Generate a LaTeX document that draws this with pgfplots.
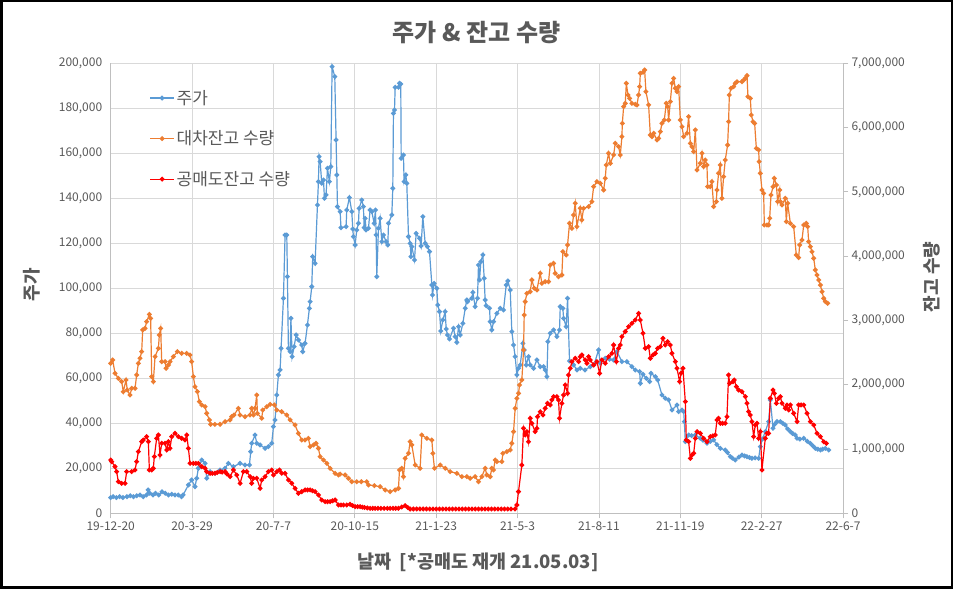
\documentclass[border=0pt]{standalone}
\usepackage{fontspec}
\setmainfont{Noto Sans CJK KR}
\usepackage{pgfplots}
\pgfplotsset{compat=1.18}
\definecolor{cBlue}{HTML}{5B9BD5}
\definecolor{cOrange}{HTML}{ED7D31}
\definecolor{cRed}{HTML}{FF0000}
\definecolor{cText}{HTML}{595959}
\definecolor{cGrid}{HTML}{D9D9D9}
\definecolor{cAxis}{HTML}{BFBFBF}
\pgfplotsset{
  common/.style={
    at={(110.7pt,75.7pt)}, anchor=south west,
    scale only axis, width=732.3pt, height=450pt,
    xmin=0, xmax=900, clip=false,
    axis line style={cAxis, line width=0.8pt},
    tick align=outside,
    tick label style={font=\fontsize{12}{14}\selectfont, text=cText},
    scaled y ticks=false,
    yticklabel style={/pgf/number format/.cd, fixed, precision=0, 1000 sep={,}, assume math mode=true},
  },
  ser/.style={line width=1.2pt, mark=*, mark size=1.8pt, mark options={solid}},
}
\begin{document}
\begin{tikzpicture}[x=1pt,y=1pt]
\useasboundingbox (0,0) rectangle (953,589);
\fill[white] (0,0) rectangle (953,589);
\draw[line width=2.5pt] (1.25,1.25) rectangle (951.75,587.75);
\begin{axis}[common,
  ymin=0, ymax=200000,
  axis y line*=left, axis x line*=bottom,
  xtick={0,100,200,300,400,500,600,700,800,900},
  xticklabels={19-12-20,20-3-29,20-7-7,20-10-15,21-1-23,21-5-3,21-8-11,21-11-19,22-2-27,22-6-7},
  ytick={0,20000,40000,60000,80000,100000,120000,140000,160000,180000,200000},
  grid=major, major grid style={cGrid, line width=0.8pt},
  x tick style={cAxis, line width=0.8pt}, major tick length=5pt,
  y tick style={draw=none},
]
\addplot[ser, cBlue] table {
x y
0 6960
3 7400
7 7000
11 7400
15 7000
20 7400
24 7800
28 7400
32 7800
36 8150
40 7400
44 8150
46 10370
48 8900
52 8150
55 8900
59 8150
63 9600
67 8900
71 8150
75 8500
79 8150
83 8150
87 7400
89 8150
95.5 12590
99.5 14810
103.6 11850
105.7 15550
107.7 20000
111.9 23700
116 22220
118 15550
122.1 18520
128.2 17770
134.4 19260
140.5 20000
144.6 22220
150.8 20740
159 22220
165.1 21480
170.5 21480
172.1 27400
173.3 31110
177.4 34790
179.5 31110
183.6 30370
189.7 28880
193.8 29630
197.9 31110
200 38510
202 41480
204.1 52590
206.1 61480
208.2 63700
209.4 73330
212.3 95550
214.3 123700
216.4 123700
217.2 105180
218.4 73330
220.5 71850
221.5 86660
223 69630
225.4 74070
227.9 79250
230.7 77030
234.8 74810
236 71850
238.9 75550
241.8 83700
244.2 91110
245.1 94070
247.1 100740
248.3 114070
251.2 111110
254.1 137030
255.3 147400
256.1 158500
257.4 156290
259.4 146660
261.5 148140
262.7 140000
264.7 141480
266.4 153330
268.8 147400
270.5 154070
272.1 198500
275.4 194070
277 165920
277.9 150370
278.7 136290
282 134070
283 126960
289.3 127400
290.1 134810
293.4 140290
296.3 134070
297.5 126370
298.3 122960
300.4 119250
302.4 125920
304.5 128880
305.3 135550
308.6 139250
310.6 136290
311.5 126960
312.7 131110
313.9 125920
316.8 126660
318.8 134810
320.9 134070
323.8 128880
325.4 134810
326.2 123700
327 105180
329.1 126660
331.1 131110
333.2 120740
335.2 123700
338.5 120740
340.6 119250
341.4 128880
345.5 132590
346.7 144440
347.5 177770
348.8 179250
349.6 189330
353.7 189330
354.9 191100
356.5 190800
357 157770
359.8 159250
360.6 147400
362.7 150370
363.9 146660
366 122960
368 120000
369 114070
370.1 118520
373.4 112590
375.4 124440
379.5 122220
381.5 118810
383.6 131850
386.5 120000
389.3 118520
391.8 116300
394.7 101480
395.5 97030
397.5 102220
400.8 100000
402 92590
404.1 89630
405.7 81030
408.2 85920
411.1 89630
412.3 81920
413.9 79250
416.4 77480
421.3 82220
423.4 78510
425.4 76000
427.5 82960
429.5 79250
432.8 84440
435.7 91110
437.7 94810
438.5 94070
443.8 95550
445.1 98220
447.9 91850
450.8 95550
452 110370
453.3 103700
454.9 111850
457.4 114810
459 104440
460.2 94810
461.5 92290
465.6 91110
466.4 85180
468.4 81480
470.5 85180
474.6 88890
478.7 91110
482.8 90370
486.1 101480
488.1 103260
491 99260
493 80740
495.1 74810
497.1 69630
499.2 61480
501.2 64440
503.3 65920
506.6 75550
508.2 72590
510.7 65920
513.5 69630
515.6 65920
519.7 64440
523.8 68140
527.9 65180
532 65180
534 63700
536.1 60740
537.3 76290
540.2 80000
544.3 81480
548.4 78510
551.6 81480
552.5 91850
555.7 91110
556.6 86660
559.8 82960
561.5 95550
563.9 67700
568.9 65920
573 63700
577.1 64440
583 63700
589.4 65180
594 66000
599.6 72590
601.7 66660
607.8 68880
613 68500
618.1 68140
622.2 71850
628.3 67400
634.5 67400
640.6 65180
644.7 63700
650.1 62960
650.9 57770
654.2 61770
658.3 60000
662.4 58520
664 62220
669.3 60740
672.2 59260
677.5 52590
681.6 51110
685.7 50370
689.8 45920
696 48140
698 45180
702.1 45920
704.2 45180
705 40740
706.2 31850
710.3 34790
714 34500
718.5 34790
724.6 33330
728 32500
732.8 31110
737 32000
741 32590
745 30500
749.2 28880
755.3 28140
758 27000
761.5 25180
764 24500
767.6 23700
772 25000
775.8 25920
779 25500
782 25180
785 24800
788.1 24440
792 24600
796.3 24440
798.4 29630
801 33000
804.5 36290
808.6 40740
810.7 50370
814 37770
816 39500
818.9 40740
823 40740
826 40000
829.1 39250
832 37500
835.3 36290
838 35500
841.4 34790
843.5 33330
847 33000
851.7 33330
856 32000
859.9 31110
863 30000
866 28880
869 28500
872.2 28140
875 28500
878.3 28880
882.4 28140
};
\end{axis}
\begin{axis}[common,
  ymin=0, ymax=7000000,
  axis y line*=right, axis x line=none,
  ytick={0,1000000,2000000,3000000,4000000,5000000,6000000,7000000},
  y tick style={cAxis, line width=0.8pt}, major tick length=5pt,
  legend style={at={(0.0527,0.945)}, anchor=north west, draw=none, fill=none,
    font=\fontsize{17}{20}\selectfont, text=cText, row sep=21pt, inner sep=0pt},
  legend cell align=left,
  legend image code/.code={\draw[mark repeat=2,mark phase=2] plot coordinates {(0pt,0pt)(12pt,0pt)(24pt,0pt)};},
]
\addlegendimage{ser, cBlue}
\addlegendentry{주가}
\addplot[ser, cOrange] table {
x y
0 2333000
2.4 2385000
5.3 2177000
9.4 2100000
13.5 2048000
15.5 1892000
18.8 2074000
20.4 1918000
23.7 1840000
25.8 1944000
29.9 1944000
31.9 2152000
34 2333000
36 2411000
38.1 2515000
39.3 2852000
42.2 2877000
44.2 2981000
47.5 3095000
49.1 3033000
50.4 2126000
52.4 2048000
54.5 2437000
58.6 2566000
59.8 2774000
61.4 2877000
62.7 2359000
66.8 2359000
68 2255000
70.9 2307000
72.9 2359000
77 2437000
81.9 2515000
87.3 2488000
93.4 2488000
97.5 2463000
99.5 2359000
101.6 2126000
103.6 1970000
106.5 1892000
109 1737000
111.9 1685000
116 1659000
118 1555000
121.3 1452000
122.9 1384000
128 1384000
134.4 1384000
140.5 1426000
146.7 1452000
148.7 1503000
151.6 1529000
156.9 1633000
159 1529000
165.1 1503000
171.3 1529000
173.3 1633000
175.4 1529000
177.4 1633000
179.5 1840000
180.3 1555000
185.6 1478000
186.9 1607000
191.8 1659000
195.9 1695000
201.2 1685000
204.1 1607000
210.2 1581000
216.4 1529000
220.5 1452000
226.6 1374000
230.7 1244000
234.8 1140000
238.9 1140000
243 1166000
245.1 1037000
249.2 1063000
252.4 1089000
255.3 1011000
257.4 881000
261.5 829000
265.6 777000
269.7 700000
275.8 622000
279.9 596000
282 610000
288.1 596000
292.2 544000
296.3 492000
302.4 492000
308 492000
314.7 492000
316.8 440000
324 430000
331.1 414000
337.3 363000
343.4 337000
349.6 363000
353.7 388000
354.9 674000
357.8 700000
359.8 570000
361.9 855000
366 933000
368 1114000
370.1 1063000
374.2 751000
380.3 700000
382.4 1218000
388.5 1166000
394.7 1140000
395.9 933000
397.9 700000
404.9 751000
411.1 700000
417.2 648000
425.4 622000
431.6 570000
437.7 570000
441.8 544000
447.9 570000
452 492000
456.1 570000
460.2 700000
462.3 596000
466.4 570000
468.4 700000
470.5 674000
472.5 829000
474.6 803000
480.7 803000
482 933000
486.9 959000
491 985000
493 1089000
495.1 1270000
497.1 1633000
499.2 1789000
501.2 1866000
502.5 1996000
505.3 2074000
507.4 2540000
508.2 3085000
509.4 3292000
511.5 3422000
515.6 3448000
517.6 3629000
520.5 3500000
523.8 3474000
527.9 3733000
529.9 3577000
534 3603000
538.1 3603000
540.2 3863000
544.3 3889000
546.3 3733000
550.4 3681000
554.5 3707000
555.7 4070000
559.8 4018000
561.5 4174000
563.9 4511000
566.8 4433000
568.9 4640000
570.9 4822000
573 4459000
577.1 4744000
579 4563000
581.2 4744000
587.3 4770000
591.4 4848000
593.5 5081000
597.6 5159000
601.7 5133000
605.8 5029000
607.8 5211000
609.1 5418000
611.9 5600000
614 5444000
618.1 5574000
620.1 5755000
624.2 5703000
626.3 5574000
628.3 5859000
628.8 6066000
630.4 6326000
632.4 6377000
633.7 6689000
635.7 6507000
637.8 6455000
640.6 6377000
644.7 6362000
646.8 6352000
648.8 6507000
650.1 6637000
650.9 6844000
654.2 6860000
656.2 6896000
657.8 6559000
661.1 6352000
663.2 5885000
665.2 5859000
667.3 5911000
671.4 5807000
673.4 5833000
675.5 5937000
677.5 6066000
680.4 6118000
682.8 6377000
684.5 6326000
685.7 6118000
687.8 6403000
689.8 6689000
691.9 6766000
693.9 6611000
696 6559000
698 6637000
700.1 6118000
702.1 6014000
704.2 5859000
708.3 5911000
710.3 6170000
712.4 5755000
714.4 5703000
716.5 5626000
718.5 5963000
720.6 5340000
724.6 5444000
726.7 5600000
728.7 5392000
730.8 5496000
732.8 5418000
733.6 5081000
736.9 5081000
738.9 5159000
741 4770000
744.3 4848000
745.1 5029000
747.1 5289000
749.2 5418000
751.2 4900000
753.3 5237000
755.3 5496000
758.2 5729000
759.4 6092000
760.3 6507000
762.3 6611000
765.6 6637000
767.6 6689000
769.7 6714000
775.8 6714000
777.9 6740000
779.9 6766000
782 6808000
783.2 6481000
786.1 6455000
787.3 6196000
789.4 6092000
791.4 6066000
793.5 5677000
796.3 5652000
797 5470000
798.4 5289000
800.4 5029000
802.5 4977000
803.3 4485000
806.6 4485000
808.6 4485000
809.9 4589000
811.5 4952000
814 5081000
815.6 5211000
818.1 5107000
819.7 4848000
822.2 5029000
823 4848000
825 4796000
829.1 4900000
830.3 4537000
832 4822000
835.3 4511000
839.4 4459000
842.6 4018000
845.5 3977000
846.7 4174000
849.6 4251000
851.7 4485000
854.9 4511000
856.6 4459000
857.8 4226000
859.9 4148000
861.9 4070000
864 3966000
866 3785000
868.1 3707000
870.1 3629000
872.2 3551000
874.2 3448000
876.3 3344000
878.3 3292000
881.2 3266000
};
\addlegendentry{대차잔고 수량}
\addplot[ser, cRed] table {
x y
0 829000
1.2 803000
5.3 726000
7.3 648000
9.4 492000
13.5 466000
17.6 466000
19.6 648000
25.8 648000
29.9 674000
31.9 803000
34 959000
38.1 1114000
40.1 1140000
44.2 1192000
46.3 1114000
47.5 674000
50.4 674000
52.4 700000
53.6 881000
56.5 1166000
58.6 1218000
60.6 907000
62.7 1089000
66.8 1089000
68.8 985000
70.9 1114000
72.9 1011000
75 1192000
79.1 1244000
83.2 1192000
87.3 1166000
91.4 1140000
93.4 1218000
95.5 1011000
97.5 777000
101.6 777000
104.6 777000
107.7 777000
111.9 726000
116 700000
118 648000
122.1 622000
125 622000
128.2 622000
131 635000
134.4 648000
137 640000
140.5 648000
143 610000
146.7 570000
150.8 674000
154.9 596000
159 466000
163.1 648000
167.2 648000
171.3 570000
173.3 466000
175.4 544000
179.5 544000
183.6 388000
185.6 518000
189.7 570000
193.8 648000
197.9 674000
200 596000
204.1 648000
207.4 674000
210.2 622000
214.3 622000
218.4 518000
222.5 466000
226.6 388000
230.7 311000
234.8 337000
238.9 363000
242 363000
245.1 363000
248 350000
251.2 337000
255.3 285000
259.4 207000
263.5 181000
266.5 181000
269.7 181000
272.7 195000
275.8 207000
279.9 129000
283 129000
286.1 129000
290.1 129000
294.2 140000
297.3 120000
300.4 103000
303.5 103000
306.5 103000
309.3 95000
312 90000
315.4 83000
318.8 77000
322 77000
325 77000
328.5 77000
332 77000
336 77000
340 77000
343.5 77000
347 77000
350.3 77000
353.7 77000
357.8 98000
361.9 119000
365 90000
368 67000
372 67000
376 67000
380 67000
384 67000
388 67000
392 67000
396 67000
400 67000
404 67000
408 67000
412 67000
416 67000
420 67000
424 67000
428 67000
432 67000
436 67000
440 67000
444 67000
448 67000
452 67000
456 67000
460 67000
464 67000
468 67000
472 67000
476 67000
480 67000
484 67000
488 67000
492 67000
497 67000
499.2 129000
501.2 337000
505.3 751000
507.4 1322000
509.4 1218000
511.5 1270000
513.5 1114000
515.6 1478000
517.6 1400000
521.7 1270000
523.8 1322000
524.6 1503000
527.9 1581000
531.2 1529000
534 1633000
536.9 1711000
540.2 1685000
542.2 1763000
544.3 1815000
548.4 1815000
550.4 1763000
551.6 1478000
554.5 1711000
556.6 1840000
558.6 1996000
561.5 1866000
562.7 2152000
564.8 2255000
566.8 2359000
570.9 2411000
575 2359000
577.1 2437000
579.1 2463000
583.2 2385000
585.3 2333000
587.3 2437000
589.4 2385000
593.5 2307000
597.6 2359000
600.9 2177000
603.7 2385000
607.8 2333000
611.9 2437000
616 2488000
618.1 2618000
621.4 2359000
624.2 2566000
626.3 2618000
628.3 2748000
632.4 2826000
636.5 2903000
640.6 2955000
644.7 3007000
648.8 3111000
650.9 3007000
654.2 2800000
657 2566000
661.1 2592000
663.2 2411000
666.5 2463000
669.3 2488000
672.2 2566000
675.5 2592000
678.7 2722000
681.6 2618000
684.5 2670000
687.8 2618000
689.8 2488000
693.9 2359000
696 2255000
699.2 2048000
700.9 2177000
703.3 2255000
706.2 1737000
707.4 1140000
710.3 1114000
712.4 855000
714.4 907000
716.5 933000
718.5 1166000
720.6 1270000
724.6 1244000
728.7 1166000
732.8 1114000
736.9 1192000
740 1205000
743 1218000
745.1 1452000
747.1 1478000
749.2 1400000
752 1400000
755.3 1400000
757.4 1503000
759.4 2152000
760.7 2022000
764.8 2048000
766.4 2074000
768.9 1970000
771.7 1918000
775.8 1892000
779.9 1815000
782 1711000
784 1581000
786.1 1529000
788.1 1426000
790.2 1192000
792.2 1374000
794.3 1400000
796.3 1166000
798.4 1270000
800.4 674000
804.5 1166000
806.6 1244000
808.6 1244000
810.7 1789000
814 1918000
815.6 1866000
818.1 1711000
820.9 1789000
823 1815000
825 1711000
829.1 1633000
831.2 1685000
833.2 1607000
835.3 1685000
839.4 1555000
843.5 1426000
845.5 1685000
848.5 1685000
851.7 1685000
855.8 1555000
859.9 1426000
864 1374000
868.1 1244000
872.2 1192000
876.3 1114000
879.5 1089000
};
\addlegendentry{공매도잔고 수량}
\end{axis}
\node[font=\fontsize{24}{28}\selectfont\bfseries, text=cText] at (476.5,556) {주가 \& 잔고 수량};
\node[rotate=90, font=\fontsize{18}{21}\selectfont\bfseries, text=cText] at (31.7,304) {주가};
\node[rotate=90, font=\fontsize{18}{21}\selectfont\bfseries, text=cText] at (931.7,312) {잔고 수량};
\node[font=\fontsize{18.5}{22}\selectfont\bfseries, text=cText] at (478,27) {날짜\ \ [*공매도 재개 21.05.03]};
\end{tikzpicture}
\end{document}
